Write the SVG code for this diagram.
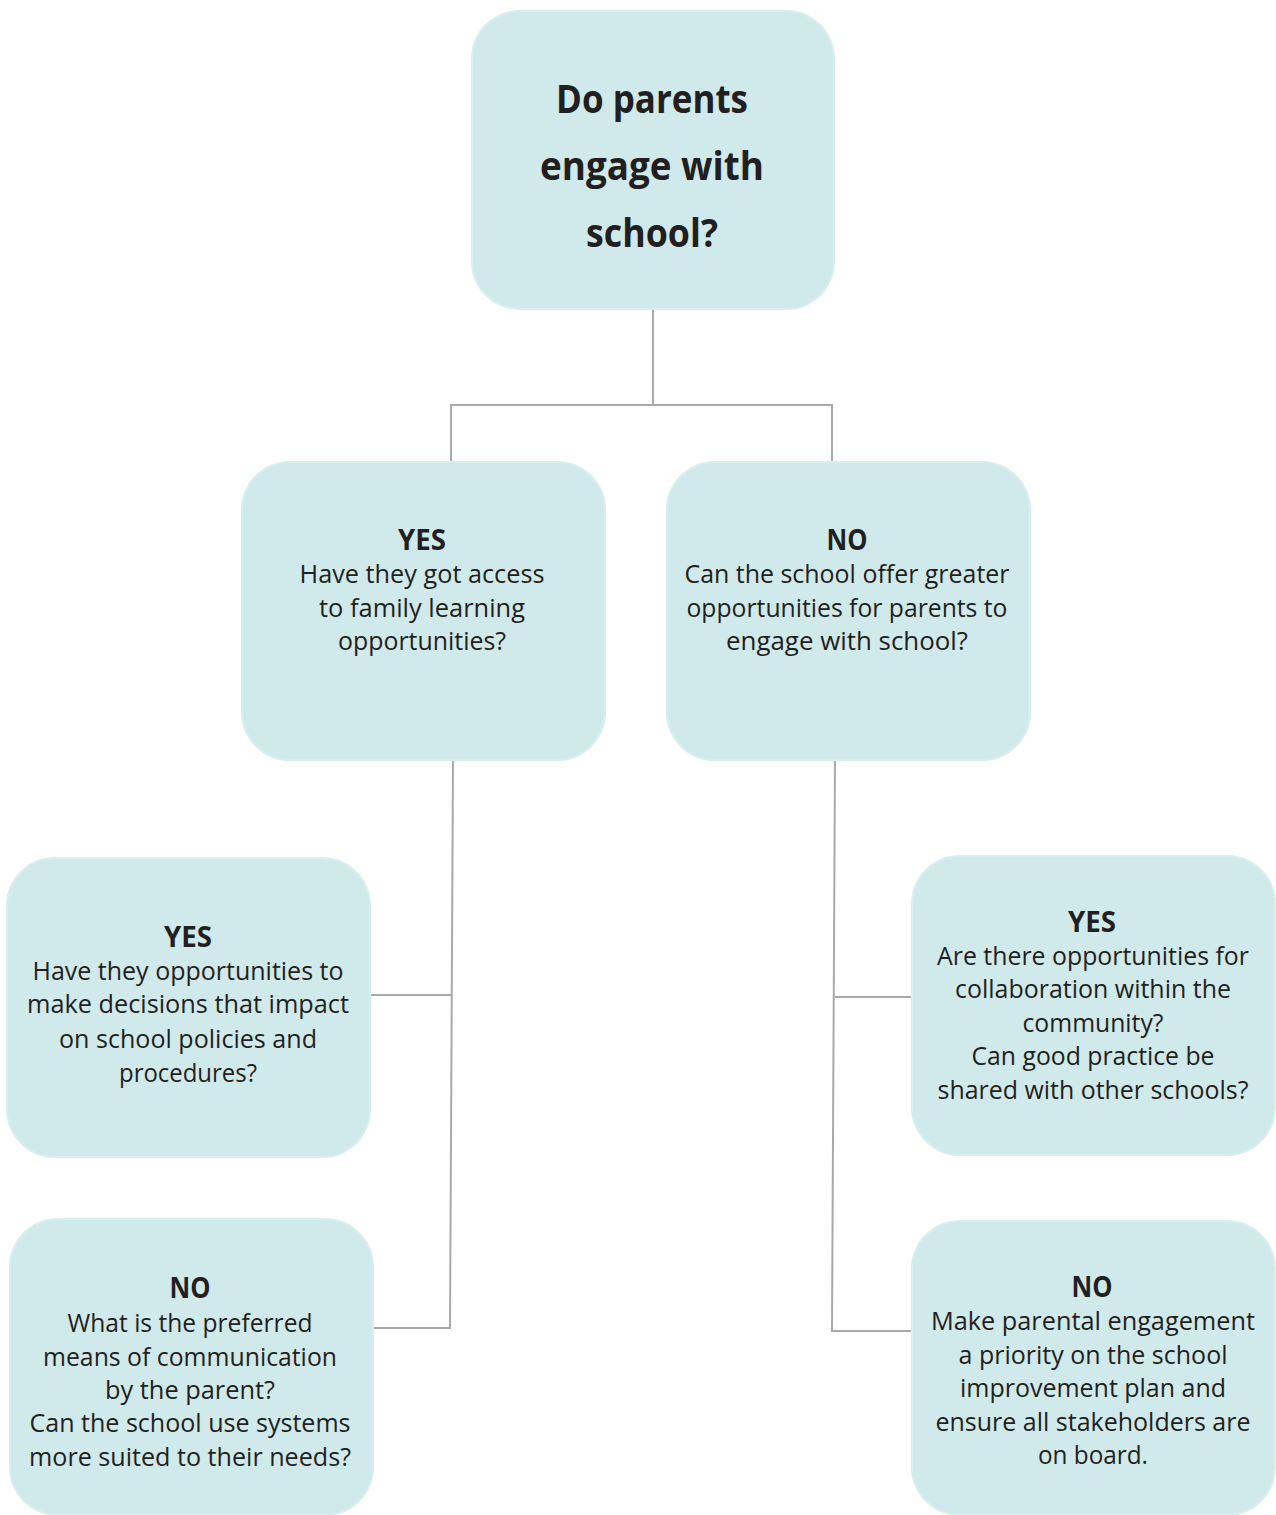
<svg xmlns="http://www.w3.org/2000/svg" width="1276" height="1515" viewBox="0 0 1276 1515">
<style>
.box{fill:#d0e9ea;stroke:#d9eeee;stroke-width:2}
.c{fill:none;stroke:#a7a9ac;stroke-width:2}
text{font-family:"Open Sans","Noto Sans","Liberation Sans",sans-serif;fill:#231f20;text-anchor:middle}
.t{font-size:39px;font-weight:bold}
.h{font-size:28px;font-weight:bold}
.b{font-size:25px}
</style>
<rect width="1276" height="1515" fill="#ffffff"/>
<g id="connectors">
<polyline class="c" points="653,309 653,405"/>
<polyline class="c" points="451,462 451,405 832,405 832,462"/>
<polyline class="c" points="453,760 450,1328 373,1328"/>
<polyline class="c" points="370,995 452,995"/>
<polyline class="c" points="835,757 832,1331 912,1331"/>
<polyline class="c" points="835,997 912,997"/>
</g>
<g id="root">
<rect class="box" x="472" y="11" width="362" height="298" rx="48"/>
<text class="t" x="652" y="113" textLength="192" lengthAdjust="spacingAndGlyphs">Do parents</text>
<text class="t" x="652" y="180" textLength="224" lengthAdjust="spacingAndGlyphs">engage with</text>
<text class="t" x="652" y="247" textLength="132" lengthAdjust="spacingAndGlyphs">school?</text>
</g>
<g id="yes1">
<rect class="box" x="242" y="462" width="363" height="298" rx="48"/>
<text class="h" x="422" y="550" textLength="48" lengthAdjust="spacingAndGlyphs">YES</text>
<text class="b" x="422" y="583" textLength="245" lengthAdjust="spacingAndGlyphs">Have they got access</text>
<text class="b" x="422" y="617" textLength="206" lengthAdjust="spacingAndGlyphs">to family learning</text>
<text class="b" x="422" y="650" textLength="168" lengthAdjust="spacingAndGlyphs">opportunities?</text>
</g>
<g id="no1">
<rect class="box" x="667" y="462" width="363" height="298" rx="48"/>
<text class="h" x="847" y="550" textLength="41" lengthAdjust="spacingAndGlyphs">NO</text>
<text class="b" x="847" y="583" textLength="325" lengthAdjust="spacingAndGlyphs">Can the school offer greater</text>
<text class="b" x="847" y="617" textLength="321" lengthAdjust="spacingAndGlyphs">opportunities for parents to</text>
<text class="b" x="847" y="650" textLength="242" lengthAdjust="spacingAndGlyphs">engage with school?</text>
</g>
<g id="yes-yes">
<rect class="box" x="7" y="858" width="363" height="299" rx="48"/>
<text class="h" x="188" y="947" textLength="48" lengthAdjust="spacingAndGlyphs">YES</text>
<text class="b" x="188" y="980" textLength="311" lengthAdjust="spacingAndGlyphs">Have they opportunities to</text>
<text class="b" x="188" y="1013" textLength="322" lengthAdjust="spacingAndGlyphs">make decisions that impact</text>
<text class="b" x="188" y="1048" textLength="258" lengthAdjust="spacingAndGlyphs">on school policies and</text>
<text class="b" x="188" y="1082" textLength="138" lengthAdjust="spacingAndGlyphs">procedures?</text>
</g>
<g id="yes-no">
<rect class="box" x="10" y="1219" width="363" height="296" rx="48"/>
<text class="h" x="190" y="1298" textLength="41" lengthAdjust="spacingAndGlyphs">NO</text>
<text class="b" x="190" y="1332" textLength="245" lengthAdjust="spacingAndGlyphs">What is the preferred</text>
<text class="b" x="190" y="1366" textLength="294" lengthAdjust="spacingAndGlyphs">means of communication</text>
<text class="b" x="190" y="1399" textLength="170" lengthAdjust="spacingAndGlyphs">by the parent?</text>
<text class="b" x="190" y="1432" textLength="321" lengthAdjust="spacingAndGlyphs">Can the school use systems</text>
<text class="b" x="190" y="1466" textLength="322" lengthAdjust="spacingAndGlyphs">more suited to their needs?</text>
</g>
<g id="no-yes">
<rect class="box" x="912" y="856" width="363" height="299" rx="48"/>
<text class="h" x="1092" y="932" textLength="48" lengthAdjust="spacingAndGlyphs">YES</text>
<text class="b" x="1093" y="965" textLength="312" lengthAdjust="spacingAndGlyphs">Are there opportunities for</text>
<text class="b" x="1093" y="998" textLength="276" lengthAdjust="spacingAndGlyphs">collaboration within the</text>
<text class="b" x="1093" y="1032" textLength="141" lengthAdjust="spacingAndGlyphs">community?</text>
<text class="b" x="1093" y="1065" textLength="243" lengthAdjust="spacingAndGlyphs">Can good practice be</text>
<text class="b" x="1093" y="1099" textLength="311" lengthAdjust="spacingAndGlyphs">shared with other schools?</text>
</g>
<g id="no-no">
<rect class="box" x="912" y="1221" width="363" height="294" rx="48"/>
<text class="h" x="1092" y="1297" textLength="41" lengthAdjust="spacingAndGlyphs">NO</text>
<text class="b" x="1093" y="1330" textLength="324" lengthAdjust="spacingAndGlyphs">Make parental engagement</text>
<text class="b" x="1093" y="1364" textLength="269" lengthAdjust="spacingAndGlyphs">a priority on the school</text>
<text class="b" x="1093" y="1397" textLength="266" lengthAdjust="spacingAndGlyphs">improvement plan and</text>
<text class="b" x="1093" y="1431" textLength="315" lengthAdjust="spacingAndGlyphs">ensure all stakeholders are</text>
<text class="b" x="1093" y="1464" textLength="110" lengthAdjust="spacingAndGlyphs">on board.</text>
</g>
</svg>
